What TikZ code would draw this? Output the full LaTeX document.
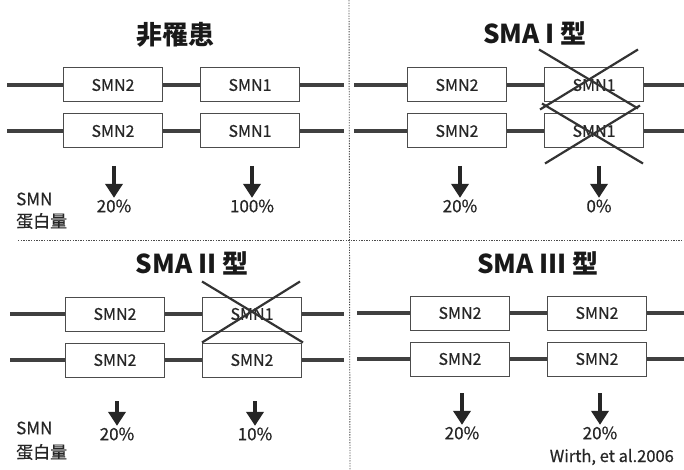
\documentclass[tikz,border=0pt]{standalone}
\usepackage{fontspec}
\setmainfont{Noto Sans CJK JP}
\newfontfamily\medfont[FakeBold=0.6]{Noto Sans CJK JP}
\usetikzlibrary{arrows.meta,calc}
\tikzset{
    gene/.style={draw=black!70,line width=1pt,fill=white,minimum width=99pt,minimum height=34pt,inner sep=0pt,text=black!85,font=\medfont\fontsize{16}{16}\selectfont},
    chrom/.style={draw=black!75,line width=3.5pt},
    cross/.style={draw=black!80,line width=2.2pt},
    dnarrow/.style={draw=black!85,line width=4.5pt,-{Triangle[width=17pt,length=14pt]}},
    pct/.style={inner sep=1.5pt,text=black!85,font=\medfont\fontsize{17}{17}\selectfont},
    sidelabel/.style={anchor=west,inner sep=0pt,text=black!85,font=\medfont\fontsize{17}{17}\selectfont},
    paneltitle/.style={inner sep=0pt,text=black!90,font=\fontsize{26}{26}\selectfont\bfseries},
    divider/.style={draw=black!70,line width=0.9pt,dash pattern=on 1.3pt off 1.3pt}
}
\begin{document}
\begin{tikzpicture}[x=1pt,y=-1pt]
    \useasboundingbox (0,0) rectangle (684,470);
    % dividers
    \coordinate (vtop) at (349,0);
    \coordinate (vbot) at (350,470);
    \coordinate (hleft) at (18,240);
    \coordinate (hright) at (684,240);
    \draw[divider] (vtop) -- (vbot);
    \draw[divider] (hleft) -- (hright);
    % non-affected
    \begin{scope}[shift={(0,0)},name prefix=tl-]
        \node[paneltitle] (title) at (175,35) {非罹患};
        \node[gene] (a1) at (113,85) {SMN2};
        \node[gene] (b1) at (250,85) {SMN1};
        \node[gene] (a2) at (113,131) {SMN2};
        \node[gene] (b2) at (250,131) {SMN1};
        \foreach\r/\y in{1/85,2/131}{
            \coordinate (l\r) at (7,\y);
            \coordinate (r\r) at (344,\y);
            \draw[chrom] (l\r) -- (a\r) (a\r) -- (b\r) (b\r) -- (r\r);
        }
        \coordinate (ua) at (114,166);
        \coordinate (ub) at (252,166);
        \node[pct] (pa) at (114,206) {20\%};
        \node[pct] (pb) at (252,206) {100\%};
        \draw[dnarrow] (ua) -- (pa);
        \draw[dnarrow] (ub) -- (pb);
        \node[sidelabel] (smn) at (16,199) {SMN};
        \node[sidelabel] (amount) at (16,221) {蛋白量};
    \end{scope}
    % type I
    \begin{scope}[shift={(344,0)},name prefix=tr-]
        \node[paneltitle] (title) at (191,33) {SMA I 型};
        \node[gene] (a1) at (113,85) {SMN2};
        \node[gene] (b1) at (250,85) {SMN1};
        \node[gene] (a2) at (113,131) {SMN2};
        \node[gene] (b2) at (250,131) {SMN1};
        \foreach\r/\y in{1/85,2/131}{
            \coordinate (l\r) at (10,\y);
            \coordinate (r\r) at (340,\y);
            \draw[chrom] (l\r) -- (a\r) (a\r) -- (b\r) (b\r) -- (r\r);
        }
        \draw[cross] ($(b1.north west)+(-5,-18)$) -- ($(b1.south east)+(-6,6)$);
        \draw[cross] ($(b1.north east)+(-6,-18)$) -- ($(b1.south west)+(-4,7)$);
        \draw[cross] ($(b2.north west)+(-2,-10)$) -- ($(b2.south east)+(-1,15)$);
        \draw[cross] ($(b2.north east)+(-4,-8)$) -- ($(b2.south west)+(1,15)$);
        \coordinate (ua) at (116,166);
        \coordinate (ub) at (255,166);
        \node[pct] (pa) at (116,206) {20\%};
        \node[pct] (pb) at (255,206) {0\%};
        \draw[dnarrow] (ua) -- (pa);
        \draw[dnarrow] (ub) -- (pb);
    \end{scope}
    % type II
    \begin{scope}[shift={(2,229)},name prefix=bl-]
        \node[paneltitle] (title) at (190,34) {SMA II 型};
        \node[gene] (a1) at (113,85) {SMN2};
        \node[gene] (b1) at (250,85) {SMN1};
        \node[gene] (a2) at (113,131) {SMN2};
        \node[gene] (b2) at (250,131) {SMN2};
        \foreach\r/\y in{1/85,2/131}{
            \coordinate (l\r) at (8,\y);
            \coordinate (r\r) at (342,\y);
            \draw[chrom] (l\r) -- (a\r) (a\r) -- (b\r) (b\r) -- (r\r);
        }
        \draw[cross] ($(b1.north west)+(0,-15)$) -- ($(b1.south east)+(1,11)$);
        \draw[cross] ($(b1.north east)+(-2,-15)$) -- ($(b1.south west)+(0,11)$);
        \coordinate (ua) at (115,172);
        \coordinate (ub) at (253,172);
        \node[pct] (pa) at (115,205) {20\%};
        \node[pct] (pb) at (253,205) {10\%};
        \draw[dnarrow] (ua) -- (pa);
        \draw[dnarrow] (ub) -- (pb);
        \node[sidelabel] (smn) at (14,199) {SMN};
        \node[sidelabel] (amount) at (14,223) {蛋白量};
    \end{scope}
    % type III
    \begin{scope}[shift={(347,228)},name prefix=br-]
        \node[paneltitle] (title) at (191,35) {SMA III 型};
        \node[gene] (a1) at (113,85) {SMN2};
        \node[gene] (b1) at (250,85) {SMN2};
        \node[gene] (a2) at (113,131) {SMN2};
        \node[gene] (b2) at (250,131) {SMN2};
        \foreach\r/\y in{1/85,2/131}{
            \coordinate (l\r) at (10,\y);
            \coordinate (r\r) at (337,\y);
            \draw[chrom] (l\r) -- (a\r) (a\r) -- (b\r) (b\r) -- (r\r);
        }
        \coordinate (ua) at (115,165);
        \coordinate (ub) at (253,165);
        \node[pct] (pa) at (115,205) {20\%};
        \node[pct] (pb) at (253,205) {20\%};
        \draw[dnarrow] (ua) -- (pa);
        \draw[dnarrow] (ub) -- (pb);
    \end{scope}
    \node[anchor=east,inner sep=0pt,text=black!85,font=\medfont\fontsize{16.5}{16.5}\selectfont] (source) at (674,457) {Wirth, et al.2006};
\end{tikzpicture}
\end{document}
